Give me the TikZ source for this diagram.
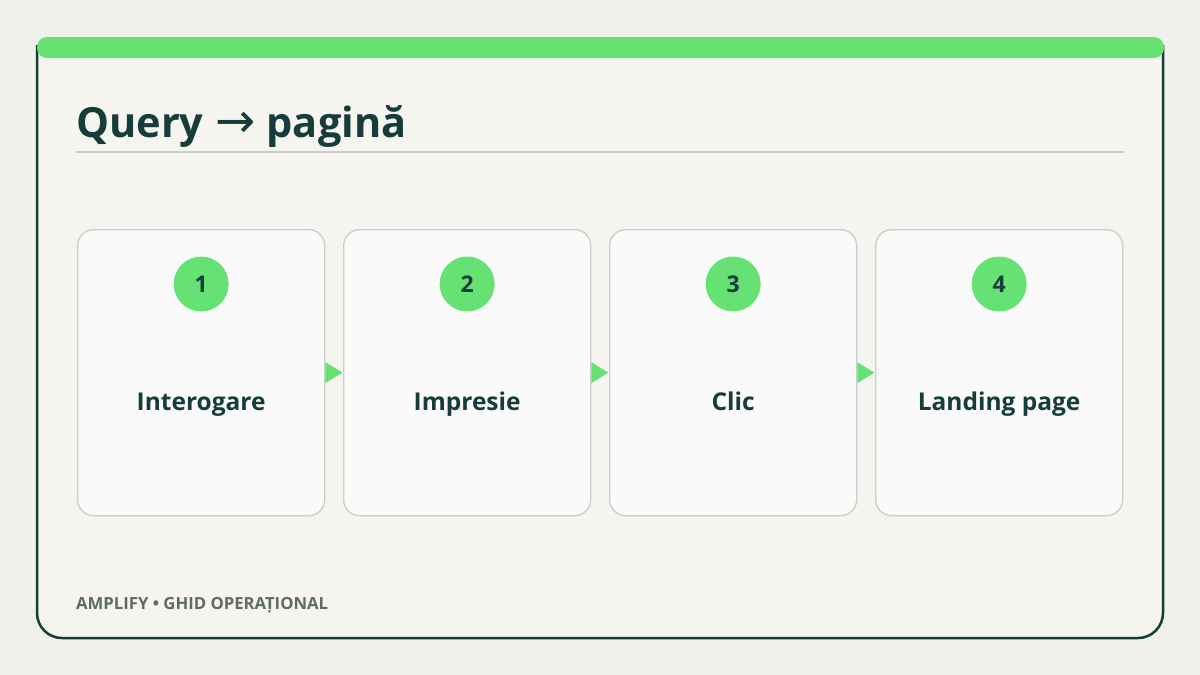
\documentclass[tikz,border=0pt]{standalone}
\usepackage{fontspec}
\setmainfont{Open Sans}
\newfontfamily\arrowfont{DejaVu Sans}
\usetikzlibrary{positioning}
\definecolor{bg}{HTML}{F2F0EA}
\definecolor{card}{HTML}{F5F4EE}
\definecolor{ink}{HTML}{163C3C}
\definecolor{accent}{HTML}{66E274}
\definecolor{boxfill}{HTML}{FAFAFA}
\definecolor{boxline}{HTML}{C8CFCA}
\definecolor{rulec}{HTML}{C5CEC9}
\definecolor{foot}{HTML}{5F6B66}
\tikzset{
  stepbox/.style={draw=boxline, line width=1.3pt, fill=boxfill, rounded corners=16pt,
    minimum width=247pt, minimum height=286pt, inner sep=0pt, anchor=north west},
  numdot/.style={circle, fill=accent, minimum size=55pt, inner sep=0pt,
    font=\fontsize{23}{27}\selectfont\bfseries, text=ink},
  steplabel/.style={font=\fontsize{24.5}{28}\selectfont\bfseries, text=ink, anchor=base, inner sep=0pt},
  joint/.style={fill=accent, draw=none}
}
\begin{document}
\begin{tikzpicture}[x=1pt,y=-1pt]
\useasboundingbox (0,0) rectangle (1200,675);
\fill[bg] (0,0) rectangle (1200,675);
% card
\draw[ink, line width=2.5pt, fill=card, rounded corners=25pt] (37,45) -- (37,638) -- (1163,638) -- (1163,45);
\fill[accent, rounded corners=10pt] (37,37) rectangle (1164,58);
% title
\node[anchor=base west, inner sep=0pt, text=ink, font=\fontsize{41.5}{48}\selectfont\bfseries] (title) at (76,137) {Query\hspace{12pt}\raisebox{0pt}{\arrowfont\mdseries\fontsize{48}{52}\selectfont →}\hspace{11pt}pagină};
\draw[rulec, line width=1.5pt] (76,152) -- (1124,152);
% boxes
\foreach \i/\x/\t in {1/77/Interogare, 2/343/Impresie, 3/609/Clic, 4/875/Landing page}{
  \node[stepbox] (b\i) at (\x,229) {};
  \node[numdot] (n\i) at ([yshift=-55pt]b\i.north) {\i};
  \node[steplabel] (l\i) at ([yshift=-181pt]b\i.north) {\t};
}
% connectors
\foreach \a/\b in {1/2,2/3,3/4}{
  \fill[joint] (b\a.east) -- ++(0,-10.5) -- ++(17,10.5) -- ++(-17,10.5) -- cycle;
}
% footer
\node[anchor=base west, inner sep=0pt, text=foot, font=\fontsize{16.7}{20}\selectfont\bfseries] (foot) at (76,609) {AMPLIFY • GHID OPERAȚIONAL};
\end{tikzpicture}
\end{document}
